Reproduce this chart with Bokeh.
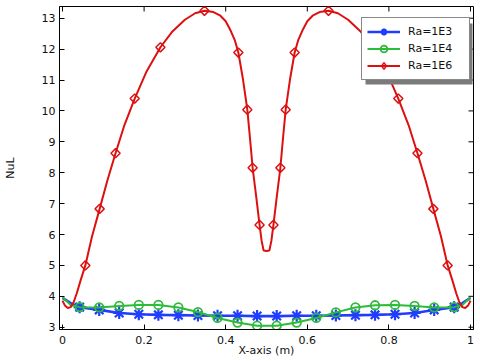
import math
from bokeh.plotting import figure
from bokeh.models import Range1d, FixedTicker, Legend, LegendItem, BoxAnnotation
from bokeh.embed import file_html
from bokeh.resources import INLINE

# ---------------- data ----------------
x_ticks = [0, 0.2, 0.4, 0.6, 0.8, 1]
x_tick_labels = ["0", "0.2", "0.4", "0.6", "0.8", "1"]
y_ticks = [3, 4, 5, 6, 7, 8, 9, 10, 11, 12, 13]

series_labels = ["Ra=1E3", "Ra=1E4", "Ra=1E6"]

# Ra=1E3 (blue)
x_1e3 = [0.0, 0.02, 0.042, 0.090, 0.139, 0.187, 0.235, 0.284, 0.332, 0.380, 0.429, 0.477,
         0.525, 0.574, 0.622, 0.670, 0.718, 0.766, 0.815, 0.863, 0.911, 0.960, 0.98, 1.0]
y_1e3 = [3.95, 3.78, 3.65, 3.56, 3.46, 3.42, 3.40, 3.39, 3.38, 3.37, 3.37, 3.36,
         3.36, 3.37, 3.37, 3.38, 3.39, 3.40, 3.42, 3.46, 3.56, 3.65, 3.78, 3.95]
xm_1e3 = [0.042, 0.090, 0.139, 0.187, 0.235, 0.284, 0.332, 0.380, 0.429, 0.477,
          0.525, 0.574, 0.622, 0.670, 0.718, 0.766, 0.815, 0.863, 0.911, 0.960]
ym_1e3 = [3.65, 3.56, 3.46, 3.42, 3.40, 3.39, 3.38, 3.37, 3.37, 3.36,
          3.36, 3.37, 3.37, 3.38, 3.39, 3.40, 3.42, 3.46, 3.56, 3.65]

# Ra=1E4 (green)
x_1e4 = [0.0, 0.02, 0.042, 0.090, 0.139, 0.187, 0.235, 0.284, 0.332, 0.380, 0.429, 0.477,
         0.525, 0.574, 0.622, 0.670, 0.718, 0.766, 0.815, 0.863, 0.911, 0.960, 0.98, 1.0]
y_1e4 = [3.97, 3.72, 3.65, 3.64, 3.69, 3.72, 3.72, 3.64, 3.49, 3.30, 3.15, 3.05,
         3.05, 3.15, 3.30, 3.48, 3.64, 3.71, 3.72, 3.69, 3.64, 3.65, 3.72, 3.97]
xm_1e4 = [0.042, 0.090, 0.139, 0.187, 0.235, 0.284, 0.332, 0.380, 0.429, 0.477,
          0.525, 0.574, 0.622, 0.670, 0.718, 0.766, 0.815, 0.863, 0.911, 0.960]
ym_1e4 = [3.65, 3.64, 3.69, 3.72, 3.72, 3.64, 3.49, 3.30, 3.15, 3.05,
          3.05, 3.15, 3.30, 3.48, 3.64, 3.71, 3.72, 3.69, 3.64, 3.65]

# Ra=1E6 (red)
x_1e6 = [0.0, 0.006, 0.013, 0.020, 0.027, 0.035, 0.044, 0.056, 0.072, 0.091,
         0.110, 0.130, 0.152, 0.177, 0.205, 0.240, 0.270, 0.300, 0.325, 0.348,
         0.370, 0.387, 0.400, 0.412, 0.422, 0.431, 0.442, 0.453, 0.460, 0.466,
         0.475, 0.483, 0.488, 0.493, 0.500,
         0.507, 0.512, 0.517, 0.525, 0.534, 0.540, 0.547, 0.558, 0.569, 0.578,
         0.588, 0.600, 0.613, 0.630, 0.652, 0.675, 0.700, 0.730, 0.760, 0.795,
         0.823, 0.848, 0.870, 0.890, 0.909, 0.928, 0.944, 0.956, 0.965, 0.973,
         0.980, 0.987, 0.994, 1.0]
y_1e6 = [3.86, 3.70, 3.62, 3.65, 3.80, 4.10, 4.50, 5.00, 5.92, 6.83,
         7.75, 8.63, 9.55, 10.40, 11.25, 12.06, 12.58, 12.95, 13.16, 13.24,
         13.20, 13.08, 12.90, 12.60, 12.30, 11.89, 11.05, 10.04, 9.05, 8.16,
         7.20, 6.31, 5.80, 5.48, 5.47,
         5.48, 5.80, 6.31, 7.20, 8.16, 9.05, 10.04, 11.05, 11.89, 12.30,
         12.60, 12.90, 13.08, 13.20, 13.24, 13.16, 12.95, 12.58, 12.06, 11.25,
         10.40, 9.55, 8.63, 7.75, 6.83, 5.92, 5.00, 4.50, 4.10, 3.80,
         3.65, 3.62, 3.70, 3.86]
xm_1e6 = [0.056, 0.091, 0.130, 0.177, 0.240, 0.348, 0.431, 0.453, 0.466, 0.483,
          0.517, 0.534, 0.547, 0.569, 0.652, 0.760, 0.823, 0.870, 0.909, 0.944]
ym_1e6 = [5.00, 6.83, 8.63, 10.40, 12.06, 13.24, 11.89, 10.04, 8.16, 6.31,
          6.31, 8.16, 10.04, 11.89, 13.24, 12.06, 10.40, 8.63, 6.83, 5.00]

# ---------------- styling ----------------
FONT = "DejaVu Sans"
BLUE = "#1f3cff"
GREEN = "#2dbb3a"
RED = "#dd1010"
X0, X1 = -0.00735, 1.00735
Y0, Y1 = 2.926, 13.379

p = figure(width=480, height=361, output_backend="svg", toolbar_location=None,
           x_range=Range1d(X0, X1), y_range=Range1d(Y0, Y1),
           min_border_left=59, min_border_right=7, min_border_top=6, min_border_bottom=32)
p.grid.visible = False
p.outline_line_color = "black"
p.background_fill_color = "white"
p.border_fill_color = "white"


def style_axis(ax):
    ax.major_tick_in = 5
    ax.major_tick_out = 0
    ax.minor_tick_in = 0
    ax.minor_tick_out = 0
    ax.axis_line_color = "black"
    ax.major_tick_line_color = "black"
    ax.major_label_text_font = FONT
    ax.major_label_text_color = "#111111"
    ax.major_label_text_font_size = "11px"
    ax.axis_label_text_font = FONT
    ax.axis_label_text_font_style = "normal"
    ax.axis_label_text_font_size = "11px"
    ax.axis_label_text_color = "#111111"


xax = p.xaxis[0]
xax.ticker = FixedTicker(ticks=x_ticks)
xax.major_label_overrides = {t: l for t, l in zip(x_ticks, x_tick_labels)}
xax.axis_label = "X-axis (m)"
style_axis(xax)
xax.major_label_standoff = 6
xax.axis_label_standoff = -3

yax = p.yaxis[0]
yax.ticker = FixedTicker(ticks=y_ticks)
yax.axis_label = "NuL"
style_axis(yax)
yax.major_label_standoff = 4
yax.axis_label_standoff = 22

# mirrored inward ticks on the top and right frame edges
p.ray(x=x_ticks, y=[Y1] * len(x_ticks), length=5, length_units="screen",
      angle=-math.pi / 2, line_color="black", line_width=1)
p.ray(x=[X1] * len(y_ticks), y=y_ticks, length=5, length_units="screen",
      angle=math.pi, line_color="black", line_width=1)

# ---------------- glyphs ----------------
lb = p.line(x_1e3, y_1e3, line_color=BLUE, line_width=2.6)
sb = p.scatter(xm_1e3, ym_1e3, marker="asterisk", size=12,
               line_color=BLUE, line_width=2.2)

lg = p.line(x_1e4, y_1e4, line_color=GREEN, line_width=2)
sg = p.scatter(xm_1e4, ym_1e4, marker="circle", size=8.5, fill_color=None,
               line_color=GREEN, line_width=1.8)

lr = p.line(x_1e6, y_1e6, line_color=RED, line_width=2)
sr = p.scatter(xm_1e6, ym_1e6, marker="square", size=6.5, angle=0.7854, fill_color=None,
               line_color=RED, line_width=1.5)
# legend-only diamond glyph (a single NaN point, never visible in the plot)
sr_leg = p.scatter(x=[float("nan")], y=[float("nan")], marker="diamond", size=8,
                   fill_color=None, line_color=RED, line_width=1.5)

groups = [[lb, sb], [lg, sg], [lr, sr_leg]]

LEG_X, LEG_Y, LEG_W, LEG_H = 302, 249, 107, 61
SH = 4

shadow = BoxAnnotation(left=LEG_X + SH, right=LEG_X + LEG_W + SH,
                       bottom=LEG_Y - SH, top=LEG_Y + LEG_H - SH,
                       left_units="screen", right_units="screen",
                       bottom_units="screen", top_units="screen",
                       fill_color="#7a7a7a", fill_alpha=1, line_color=None)
p.add_layout(shadow)

items = [LegendItem(label=lab, renderers=r) for lab, r in zip(series_labels, groups)]
legend = Legend(items=items, location=(LEG_X, LEG_Y), margin=0, padding=5, spacing=0,
                glyph_width=33, glyph_height=17, label_height=17, label_width=56,
                label_standoff=8, label_text_font=FONT, label_text_font_size="11px",
                label_text_color="#111111",
                background_fill_color="white", background_fill_alpha=1,
                border_line_color="#111111", border_line_width=1)
p.add_layout(legend, "center")

open("out.html", "w").write(file_html(p, INLINE))
